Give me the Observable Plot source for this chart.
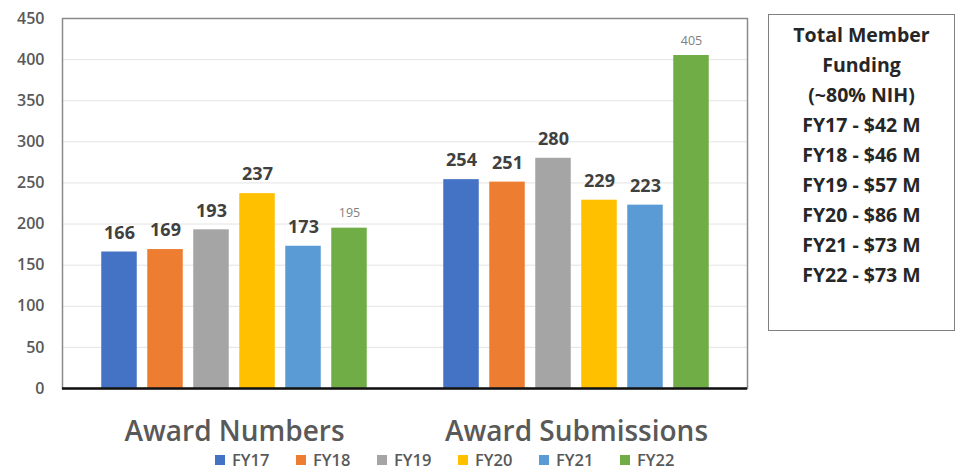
<!DOCTYPE html>
<html>
<head>
<meta charset="utf-8">
<script src="https://cdn.jsdelivr.net/npm/d3@7"></script>
<script src="https://cdn.jsdelivr.net/npm/@observablehq/plot@0.6"></script>
<style>
  html, body { margin: 0; padding: 0; background: #fff; }
  #wrap { position: relative; width: 959px; height: 470px; font-family: "Open Sans", sans-serif; }
  #chart { position: absolute; left: 0; top: 0; }
  #box {
    position: absolute; left: 768px; top: 14px; width: 187px; height: 317px;
    box-sizing: border-box; border: 1.5px solid #808080; padding-top: 5px;
    text-align: center; font-weight: 700; font-size: 19.5px; line-height: 30px; color: #262626;
  }
  #legend {
    position: absolute; left: 215px; top: 448px; width: 500px; display: flex; align-items: center;
  }
  .item { flex: 0 0 81px; width: 81px; display: flex; align-items: center; font-size: 16.5px; font-weight: 600; color: #595959; white-space: nowrap; }
  .sw { flex: 0 0 10px; width: 10px; height: 10px; margin-right: 7px; }
</style>
</head>
<body>
<div id="wrap">
  <div id="chart"></div>
  <div id="box"></div>
  <div id="legend"></div>
</div>
<script>
// ---- data ----
const groups = ["Award Numbers", "Award Submissions"];
const series = ["FY17", "FY18", "FY19", "FY20", "FY21", "FY22"];
const awardNumbers = [166, 169, 193, 237, 173, 195];
const awardSubmissions = [254, 251, 280, 229, 223, 405];
const colors = ["#4472C4", "#ED7D31", "#A5A5A5", "#FFC000", "#5B9BD5", "#70AD47"];
const yTicks = [0, 50, 100, 150, 200, 250, 300, 350, 400, 450];
const fundingTitle = ["Total Member", "Funding", "(~80% NIH)"];
const fundingYears = ["FY17", "FY18", "FY19", "FY20", "FY21", "FY22"];
const fundingAmounts = [42, 46, 57, 86, 73, 73];
const smallLabelSeries = ["FY22"];

// ---- table ----
const data = [];
groups.forEach((g, gi) => {
  const vals = gi === 0 ? awardNumbers : awardSubmissions;
  series.forEach((s, si) => data.push({group: g, series: s, value: vals[si]}));
});

// ---- layout ----
const W = 760, H = 448, ML = 62, MR = 13, MT = 18, MB = 60;
const bandW = (W - ML - MR) / groups.length;
const sub = d3.scaleBand().domain(series).range([0, bandW]).paddingInner(10 / 46).paddingOuter(0.8315);

const marks = [
  Plot.ruleY(yTicks.filter(v => v > 0 && v < 450), {stroke: "#e3e3e3", strokeWidth: 1})
];
series.forEach((s, i) => {
  const rows = data.filter(d => d.series === s);
  const left = sub(s);
  const right = bandW - (sub(s) + sub.bandwidth());
  const dx = sub(s) + sub.bandwidth() / 2 - bandW / 2;
  marks.push(Plot.barY(rows, {x: "group", y: "value", fill: colors[i], insetLeft: left, insetRight: right}));
  const small = smallLabelSeries.includes(s);
  marks.push(Plot.text(rows, {
    x: "group", y: "value", text: d => String(d.value), dx,
    dy: small ? -15 : -19,
    fontSize: small ? 12.5 : 18, fontWeight: small ? 400 : 700,
    fill: small ? "#808080" : "#404040"
  }));
});
marks.push(Plot.frame({stroke: "#8a8a8a", strokeWidth: 1.5}));
marks.push(Plot.ruleY([0], {stroke: "#111", strokeWidth: 2.5}));
marks.push(Plot.text(groups, {
  x: d => d, text: d => d, frameAnchor: "bottom", lineAnchor: "bottom", dy: 52,
  fontSize: 28, fontWeight: 600, fill: "#595959"
}));

const chart = Plot.plot({
  width: W, height: H,
  marginLeft: ML, marginRight: MR, marginTop: MT, marginBottom: MB,
  style: {fontFamily: "Open Sans", fontSize: "16px", fontWeight: 600, color: "#595959", background: "transparent"},
  x: {domain: groups, padding: 0, axis: null},
  y: {domain: [0, 450], ticks: yTicks, tickSize: 0, tickPadding: 18, label: null},
  marks
});
document.getElementById("chart").appendChild(chart);

// ---- funding box ----
const box = document.getElementById("box");
fundingTitle.forEach(t => { const d = document.createElement("div"); d.textContent = t; box.appendChild(d); });
fundingYears.forEach((y, i) => {
  const d = document.createElement("div");
  d.textContent = `${y} - $${fundingAmounts[i]} M`;
  box.appendChild(d);
});

// ---- legend ----
const legend = document.getElementById("legend");
series.forEach((s, i) => {
  const it = document.createElement("div"); it.className = "item";
  const sw = document.createElement("div"); sw.className = "sw"; sw.style.background = colors[i];
  const tx = document.createElement("span"); tx.textContent = s;
  it.appendChild(sw); it.appendChild(tx); legend.appendChild(it);
});
</script>
</body>
</html>
